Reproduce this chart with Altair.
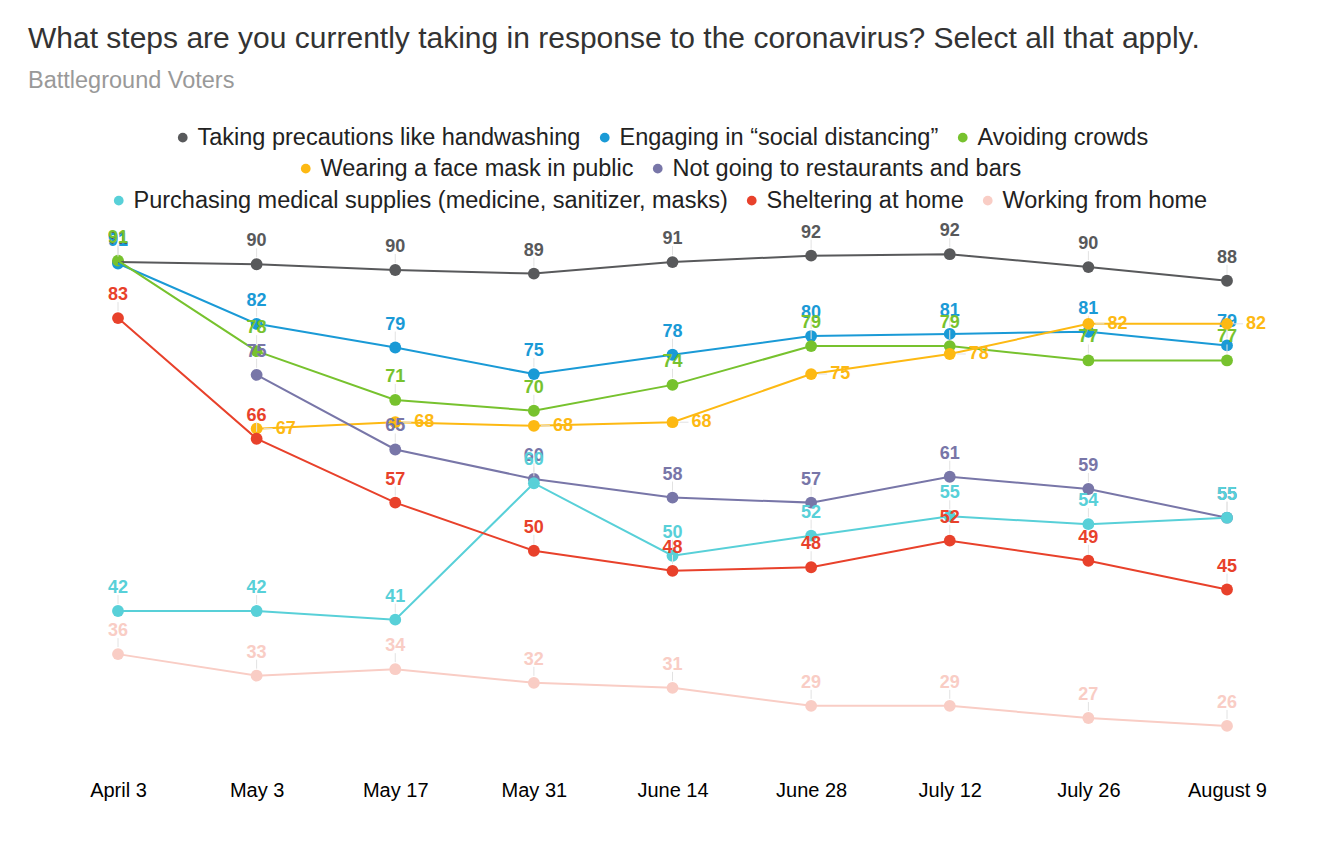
import altair as alt
import pandas as pd

dates = ["April 3", "May 3", "May 17", "May 31", "June 14", "June 28", "July 12", "July 26", "August 9"]

series_names = [
    "Taking precautions like handwashing",
    "Engaging in \u201csocial distancing\u201d",
    "Avoiding crowds",
    "Wearing a face mask in public",
    "Not going to restaurants and bars",
    "Purchasing medical supplies (medicine, sanitizer, masks)",
    "Sheltering at home",
    "Working from home",
]
series_colors = ["#58595b", "#1a9ad6", "#77c22e", "#fdb913", "#7876a8", "#58d0d8", "#e8412b", "#f9cdc5"]

# values (positions) and printed labels
handwashing = [90.6, 90.3, 89.5, 89.0, 90.6, 91.5, 91.7, 89.9, 88.0]
handwashing_lbl = [91, 90, 90, 89, 91, 92, 92, 90, 88]
distancing = [90.4, 82.0, 78.7, 75.0, 77.7, 80.3, 80.6, 80.9, 79.0]
distancing_lbl = [91, 82, 79, 75, 78, 80, 81, 81, 79]
crowds = [90.8, 78.2, 71.4, 69.9, 73.5, 78.9, 78.9, 76.9, 76.9]
crowds_lbl = [91, 78, 71, 70, 74, 79, 79, 77, 77]
mask = [None, 67.4, 68.3, 67.8, 68.3, 75.0, 77.8, 82.0, 82.0]
mask_lbl = [None, 67, 68, 68, 68, 75, 78, 82, 82]
restaurants = [None, 74.9, 64.5, 60.4, 57.8, 57.1, 60.7, 59.0, 55.0]
restaurants_lbl = [None, 75, 65, 60, 58, 57, 61, 59, 55]
supplies = [42.0, 42.0, 40.8, 59.8, 49.7, 52.5, 55.2, 54.1, 55.0]
supplies_lbl = [42, 42, 41, 60, 50, 52, 55, 54, 55]
sheltering = [82.8, 66.0, 57.1, 50.4, 47.6, 48.1, 51.8, 49.0, 45.0]
sheltering_lbl = [83, 66, 57, 50, 48, 48, 52, 49, 45]
working = [36.0, 33.0, 33.9, 32.0, 31.3, 28.8, 28.8, 27.1, 26.0]
working_lbl = [36, 33, 34, 32, 31, 29, 29, 27, 26]

all_vals = [handwashing, distancing, crowds, mask, restaurants, supplies, sheltering, working]
all_lbls = [handwashing_lbl, distancing_lbl, crowds_lbl, mask_lbl, restaurants_lbl,
            supplies_lbl, sheltering_lbl, working_lbl]

# legend rows (groups of series)
legend_rows = [[0, 1, 2], [3, 4], [5, 6, 7]]
legend_pos = [(53, -105), (176, -74), (-11, -42)]

rows = []
for i, name in enumerate(series_names):
    for d, v, l in zip(dates, all_vals[i], all_lbls[i]):
        if v is None:
            continue
        rows.append({"date": d, "series": name, "value": v, "label": str(l),
                     "side": "right" if i == 3 else "top"})
df = pd.DataFrame(rows)

FONT = "Liberation Sans"

x_enc = alt.X("date:N", sort=dates,
              scale=alt.Scale(type="point", padding=0),
              axis=alt.Axis(title=None, labelAngle=0, domain=False, ticks=False, grid=False,
                            labelFontSize=20, labelFont=FONT, labelColor="#000000",
                            labelPadding=11))
y_enc = alt.Y("value:Q", scale=alt.Scale(domain=[20, 95], nice=False, zero=False), axis=None)

groups = []
for gi, idxs in enumerate(legend_rows):
    names = [series_names[i] for i in idxs]
    cols = [series_colors[i] for i in idxs]
    lx, ly = legend_pos[gi]
    color = alt.Color("series:N", sort=names,
                      scale=alt.Scale(domain=names, range=cols),
                      legend=alt.Legend(title=None, orient="none", legendX=lx, legendY=ly,
                                        direction="horizontal", symbolType="circle",
                                        symbolSize=95, symbolStrokeWidth=0,
                                        labelFontSize=23.5, labelFont=FONT,
                                        labelColor="#222222", labelOffset=3,
                                        labelLimit=2000,
                                        columnPadding=12, padding=0))
    base = alt.Chart(df).transform_filter(
        alt.FieldOneOfPredicate(field="series", oneOf=names))
    pts = base.mark_point(filled=True, size=140, opacity=1).encode(x=x_enc, y=y_enc, color=color)
    line = base.mark_line(strokeWidth=2).encode(x=x_enc, y=y_enc, color=color)
    top = base.transform_filter(alt.datum.side == "top")
    right = base.transform_filter(alt.datum.side == "right")
    lead_v = top.mark_rule(color="#e2e2e2", strokeWidth=1, yOffset=-7, y2Offset=-16).encode(
        x=x_enc, y=y_enc, y2=alt.Y2("value:Q"))
    txt_v = top.mark_text(dy=-18, baseline="alphabetic", align="center", fontSize=18,
                          fontWeight="bold", font=FONT).encode(
        x=x_enc, y=y_enc, text="label:N", color=color)
    lead_h = right.mark_rule(color="#e2e2e2", strokeWidth=1, xOffset=7, x2Offset=16).encode(
        x=x_enc, x2=alt.X2("date:N"), y=y_enc)
    txt_h = right.mark_text(dx=19, baseline="middle", align="left", fontSize=18,
                            fontWeight="bold", font=FONT).encode(
        x=x_enc, y=y_enc, text="label:N", color=color)
    groups.append(alt.layer(pts, line, lead_v, lead_h, txt_v, txt_h))

chart = alt.layer(*groups).resolve_scale(color="independent").resolve_legend(
    color="independent"
).properties(
    width=1109,
    height=538.5,
    padding={"left": 110, "top": 222.5, "right": 60, "bottom": 50},
    autosize=alt.AutoSizeParams(type="none"),
    background="white",
    title=alt.TitleParams(
        text="What steps are you currently taking in response to the coronavirus? Select all that apply.",
        subtitle="Battleground Voters",
        anchor="start", frame="group", dx=-90, offset=33,
        font=FONT, fontSize=30, fontWeight="normal", color="#333333",
        subtitleFont=FONT, subtitleFontSize=23.5, subtitleColor="#999999",
        subtitlePadding=15,
    ),
).configure_view(stroke=None)

chart.save("out.html", embed_options={"renderer": "svg", "actions": False})
